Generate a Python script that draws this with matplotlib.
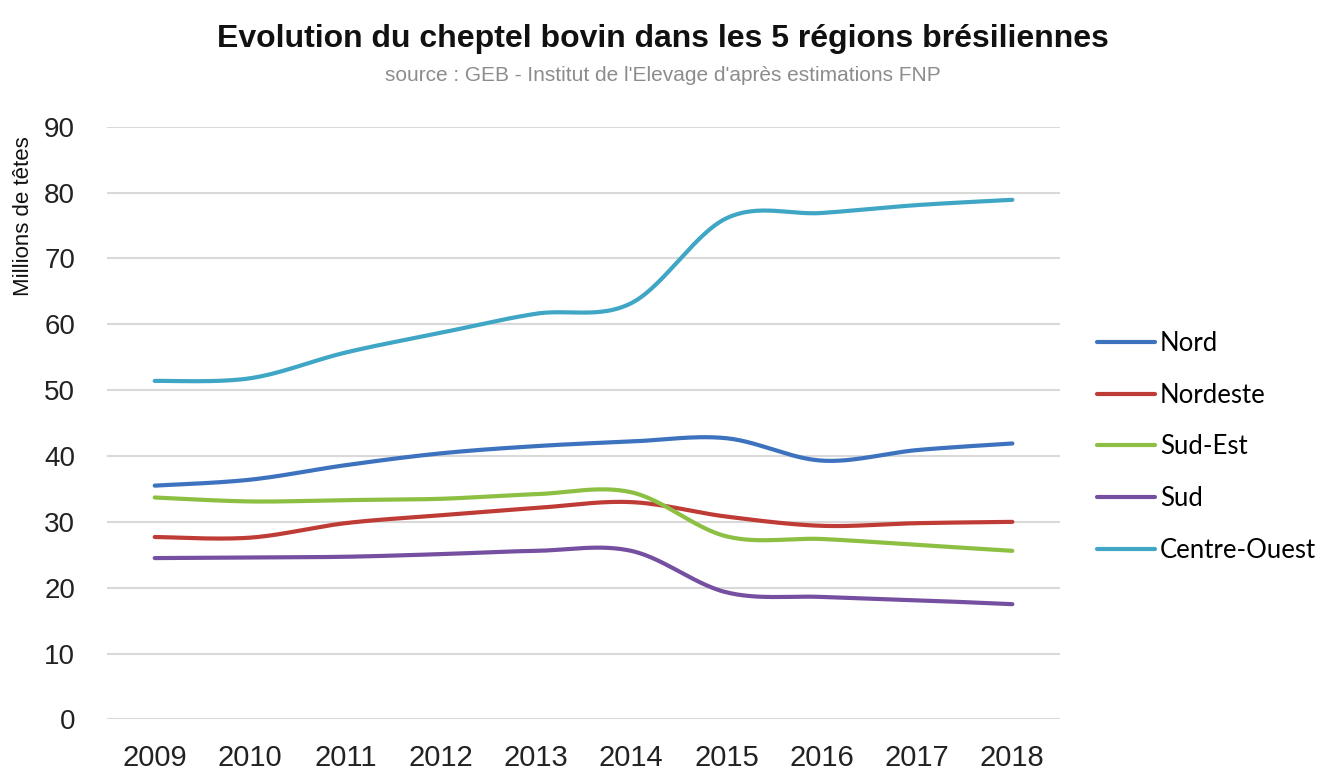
import numpy as np
import matplotlib.pyplot as plt
from matplotlib import font_manager

# data (millions de têtes)
years = ["2009", "2010", "2011", "2012", "2013", "2014", "2015", "2016", "2017", "2018"]
nord = [35.5, 36.4, 38.6, 40.4, 41.5, 42.2, 42.7, 39.3, 40.9, 41.9]
nordeste = [27.7, 27.6, 29.8, 31.0, 32.1, 33.0, 30.8, 29.4, 29.8, 30.0]
sud_est = [33.7, 33.1, 33.3, 33.5, 34.2, 34.5, 27.8, 27.4, 26.5, 25.6]
sud = [24.5, 24.6, 24.7, 25.1, 25.6, 25.6, 19.3, 18.6, 18.1, 17.5]
centre_ouest = [51.4, 51.8, 55.7, 58.7, 61.6, 63.2, 76.1, 76.9, 78.1, 78.9]

series_names = ["Nord", "Nordeste", "Sud-Est", "Sud", "Centre-Ouest"]
series_vals = [nord, nordeste, sud_est, sud, centre_ouest]
colors = ["#3D72BE", "#BF3B36", "#8CBF42", "#7650A0", "#3FA6C5"]

installed = {f.name for f in font_manager.fontManager.ttflist}
narrow = ["Liberation Sans Narrow", "Liberation Sans", "DejaVu Sans"]
narrow = [f for f in narrow if f in installed] or ["DejaVu Sans"]


def smooth(y, n=30):
    # Excel-like smoothed line: cubic Bezier through the points
    x = np.arange(len(y), dtype=float)
    y = np.asarray(y, dtype=float)
    xs, ys = [], []
    t = np.linspace(0, 1, n)
    for i in range(len(y) - 1):
        p0 = np.array([x[i], y[i]])
        p3 = np.array([x[i + 1], y[i + 1]])
        prev = np.array([x[max(i - 1, 0)], y[max(i - 1, 0)]])
        nxt = np.array([x[min(i + 2, len(y) - 1)], y[min(i + 2, len(y) - 1)]])
        p1 = p0 + (p3 - prev) / 6
        p2 = p3 - (nxt - p0) / 6
        pts = ((1 - t) ** 3)[:, None] * p0 + (3 * (1 - t) ** 2 * t)[:, None] * p1 \
            + (3 * (1 - t) * t ** 2)[:, None] * p2 + (t ** 3)[:, None] * p3
        xs.extend(pts[:, 0])
        ys.extend(pts[:, 1])
    return xs, ys


fig = plt.figure(figsize=(13.25, 7.75), dpi=100)
ax = fig.add_axes([0.0808, 0.0717, 0.7192, 0.7648])

for name, vals, c in zip(series_names, series_vals, colors):
    sx, sy = smooth(vals)
    ax.plot(sx, sy, color=c, lw=3, label=name, solid_capstyle="round")

ax.set_xlim(-0.5, 9.5)
ax.set_ylim(0, 90)
ax.set_yticks(range(0, 91, 10))
ax.set_xticks(range(len(years)))
ax.set_xticklabels(years)
ax.grid(axis="y", color="#D9D9D9", lw=1.5)
ax.set_axisbelow(True)
for s in ax.spines.values():
    s.set_visible(False)
ax.tick_params(length=0)
ax.tick_params(axis="y", pad=23)
ax.tick_params(axis="x", pad=18)
for lab in ax.get_yticklabels():
    lab.set_family(narrow)
    lab.set_fontsize(20)
    lab.set_color("#222222")
for lab in ax.get_xticklabels():
    lab.set_family(narrow)
    lab.set_fontsize(21)
    lab.set_color("#222222")

fig.text(0.0175, 0.721, "Millions de têtes", rotation=90, ha="center", va="center",
         family=narrow, fontsize=16, color="#111111")

fig.text(0.5, 0.950, "Evolution du cheptel bovin dans les 5 régions brésiliennes",
         ha="center", va="center", family=narrow, fontsize=23, fontweight="bold", color="#111111")
fig.text(0.5, 0.903, "source : GEB - Institut de l'Elevage d'après estimations FNP",
         ha="center", va="center", family=narrow, fontsize=15, color="#8C8C8C")

fig.legend(loc="upper left", bbox_to_anchor=(0.828, 0.573), frameon=False,
           prop={"family": ["Lato", "DejaVu Sans"], "size": 18.5},
           handlelength=2.25, handletextpad=0.2, labelspacing=1.04,
           borderpad=0, borderaxespad=0)

fig.savefig("out.png", dpi=100)
